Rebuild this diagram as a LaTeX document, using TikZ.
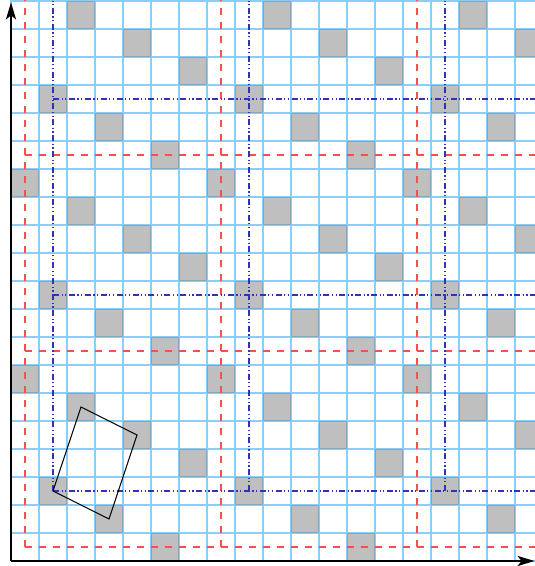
\documentclass[tikz,border=0pt]{standalone}
\usetikzlibrary{arrows.meta}
\definecolor{gridblue}{RGB}{140,206,250}
\definecolor{dotblue}{RGB}{50,50,180}
\definecolor{dashred}{RGB}{245,80,80}
\tikzset{
  gridline/.style={draw=gridblue, line width=2bp},
  graycell/.style={fill=gray, fill opacity=0.5},
  redline/.style={draw=dashred, line width=1.8bp, dash pattern=on 7bp off 7bp},
  blueline/.style={draw=dotblue, line width=1.3bp, dash pattern=on 6bp off 2.5bp on 1.2bp off 2.5bp on 1.2bp off 2.5bp},
  axisline/.style={draw=black, line width=2.2bp, -{Stealth[length=17bp,width=10bp,inset=4bp]}},
  cellframe/.style={draw=black, line width=1bp}
}
\begin{document}
\begin{tikzpicture}[x=28bp,y=28bp]
\useasboundingbox (-11bp,-5bp) rectangle (524bp,561bp);
\clip (-11bp,-5bp) rectangle (524bp,561bp);
% grid
\foreach \i in {0,...,19} \draw[gridline] (\i,0) -- (\i,20.5);
\foreach \j in {0,...,20} \draw[gridline] (0,\j) -- (19.5,\j);
% gray cells
\foreach \r in {0,...,19} {
  \foreach \c in {0,...,18} {
    \pgfmathtruncatemacro\cellmod{mod(\c+2*\r,7)}
    \ifnum\cellmod=5
      \fill[graycell] (\c,\r) rectangle ++(1,1);
    \fi
  }
}
% red dashed lines
\foreach \k in {0.5,7.5,14.5} {
  \draw[redline] (\k,0.5) -- (\k,20.5);
  \draw[redline] (0.5,\k) -- (19.5,\k);
}
% blue dash-dot lines
\foreach \k in {1.5,8.5,15.5} \draw[blueline] (\k,2.5) -- (\k,20.5);
\foreach \k in {2.5,9.5,16.5} \draw[blueline] (1.5,\k) -- (19.5,\k);
% fundamental cell
\coordinate (p1) at (1.5,2.5);
\coordinate (p2) at (3.5,1.5);
\coordinate (p3) at (4.5,4.5);
\coordinate (p4) at (2.5,5.5);
\draw[cellframe] (p1) -- (p2) -- (p3) -- (p4) -- cycle;
% axes
\coordinate (o) at (0,0);
\coordinate (xe) at (18.7,0);
\coordinate (ye) at (0,19.95);
\draw[axisline] (o) -- (xe);
\draw[axisline] (o) -- (ye);
\end{tikzpicture}
\end{document}
